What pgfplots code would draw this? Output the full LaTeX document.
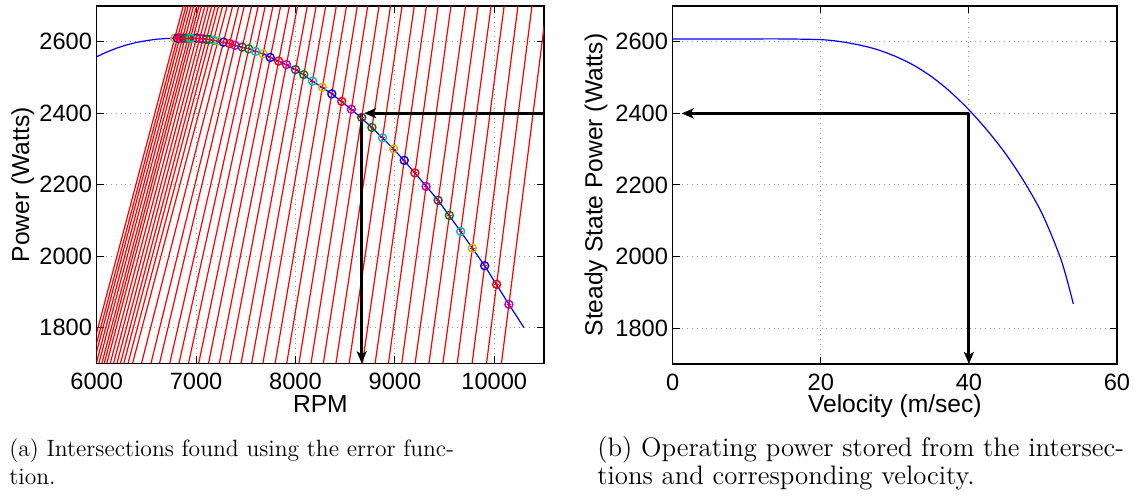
\documentclass[border=0pt]{standalone}
\usepackage{pgfplots}
\pgfplotsset{compat=1.18}
\usepackage{pgfplotstable}
\usepackage{fontspec}
\newfontfamily\arial{Liberation Sans}
\usetikzlibrary{arrows.meta}

% MATLAB default line colours
\definecolor{mB}{rgb}{0,0,1}
\definecolor{mG}{rgb}{0,0.5,0}
\definecolor{mR}{rgb}{1,0,0}
\definecolor{mC}{rgb}{0,0.75,0.75}
\definecolor{mM}{rgb}{0.75,0,0.75}
\definecolor{mY}{rgb}{0.75,0.75,0}
\definecolor{mK}{rgb}{0.25,0.25,0.25}

% load lines (one segment per velocity), separated by nan rows
\pgfplotstableread{
x y
5918 1700
6871 2700
nan nan
5945 1700
6898 2700
nan nan
5968 1700
6921 2700
nan nan
5996 1700
6949 2700
nan nan
6022 1700
6975 2700
nan nan
6052 1700
7005 2700
nan nan
6076 1700
7029 2700
nan nan
6102 1700
7055 2700
nan nan
6136 1700
7089 2700
nan nan
6170 1700
7123 2700
nan nan
6204 1700
7157 2700
nan nan
6239 1700
7192 2700
nan nan
6273 1700
7226 2700
nan nan
6315 1700
7267 2700
nan nan
6361 1700
7313 2700
nan nan
6451 1700
7368 2700
nan nan
6546 1700
7430 2700
nan nan
6632 1700
7485 2700
nan nan
6735 1700
7559 2700
nan nan
6828 1700
7625 2700
nan nan
6924 1700
7696 2700
nan nan
7026 1700
7774 2700
nan nan
7125 1700
7851 2700
nan nan
7234 1700
7939 2700
nan nan
7336 1700
8021 2700
nan nan
7452 1700
8119 2700
nan nan
7559 1700
8208 2700
nan nan
7672 1700
8304 2700
nan nan
7795 1700
8411 2700
nan nan
7912 1700
8513 2700
nan nan
8035 1700
8622 2700
nan nan
8156 1700
8727 2700
nan nan
8280 1700
8841 2700
nan nan
8407 1700
8956 2700
nan nan
8540 1700
9072 2700
nan nan
8674 1700
9195 2700
nan nan
8801 1700
9317 2700
nan nan
8935 1700
9435 2700
nan nan
9069 1700
9564 2700
nan nan
9203 1700
9711 2700
nan nan
9343 1700
9838 2700
nan nan
9483 1700
9968 2700
nan nan
9627 1700
10099 2700
nan nan
9777 1700
10238 2700
nan nan
9922 1700
10379 2700
nan nan
10072 1700
10527 2700
}\loadlines

% operating power curve against RPM
\pgfplotstableread{
x y
6000 2558
6100 2571
6200 2582
6300 2591
6400 2598
6500 2603
6600 2607
6700 2609
6785 2610
7003 2610
7136 2606
7275 2599
7391 2590
7529 2580
7674 2566
7830 2546
8000 2522
8171 2490
8365 2454
8562 2411
8769 2360
8987 2300
9201 2233
9435 2156
9662 2069
9903 1973
10147 1865
10298 1800
}\powercurve

% intersections
\pgfplotstableread{
x y
6785 2610
6812 2610
6835 2610
6863 2610
6889 2610
6919 2610
6943 2610
6969 2610
7003 2610
7036 2609
7069 2608
7103 2607
7136 2606
7176 2604
7220 2602
7275 2599
7337 2595
7391 2590
7464 2585
7529 2580
7598 2573
7674 2566
7746 2556
7830 2546
7909 2536
8000 2522
8083 2508
8171 2490
8271 2473
8365 2454
8465 2433
8562 2411
8666 2388
8769 2360
8876 2331
8987 2300
9094 2268
9201 2233
9314 2195
9435 2156
9548 2114
9662 2069
9779 2022
9903 1973
10023 1921
10147 1865
}\crossings

% steady state power against velocity
\pgfplotstableread{
x y
0 2608
5 2608
10 2608
15 2608
20 2606
22.5 2601
25 2592
27.5 2579
30 2560
32.5 2535
35 2502
37.5 2460
40 2410
42.5 2352
45 2286
47.5 2208
50 2115
52.5 1988
54.1 1868
}\steadystate

\pgfplotsset{
  matlab/.style={
    scale only axis,
    axis line style={line width=0.6pt},
    tick align=inside,
    major tick length=3.5pt,
    tick style={line width=0.5pt, black},
    grid=major,
    grid style={dotted, gray!75, line width=0.5pt},
    tick label style={font=\arial\fontsize{11.8}{12}\selectfont},
    label style={font=\arial\fontsize{12.3}{13}\selectfont},
    scaled x ticks=false, scaled y ticks=false,
    /pgf/number format/assume math mode=true,
    /pgf/number format/set thousands separator={},
    xticklabel style={anchor=base, yshift=-13.3pt},
    yticklabel style={anchor=east, inner xsep=0pt, xshift=-2.2pt},
    unbounded coords=jump,
  },
  arrowline/.style={black, line width=1.5pt, -{Stealth[length=6pt, width=5pt, inset=1.5pt]}},
  mk/.style={only marks, mark=o, mark size=2pt, line width=0.7pt, #1, mark options={solid}},
}

\begin{document}
\begin{tikzpicture}
\useasboundingbox (0,0) rectangle (570.5pt,249pt);

\begin{axis}[matlab,
  at={(48.35pt,67.35pt)}, anchor=south west,
  width=223.65pt, height=178.65pt,
  xmin=6000, xmax=10500, ymin=1700, ymax=2700,
  xtick={6000,7000,8000,9000,10000},
  ytick={1800,2000,2200,2400,2600},
  xlabel={RPM},
  ylabel={Power (Watts)},
  xlabel style={at={([yshift=-24.8pt]axis description cs:0.5,0)}, anchor=base},
  ylabel style={at={([xshift=-37pt]axis description cs:0,0.5)}, anchor=center},
]
\addplot[red, line width=0.6pt] table {\loadlines};
\addplot[mB, line width=0.6pt] table {\powercurve};
\addplot[mk=mY] table {
x y
6785 2610
6969 2610
7220 2602
7674 2566
8271 2473
8987 2300
9779 2022
};
\addplot[mk=mB] table {
x y
6812 2610
7003 2610
7275 2599
7746 2556
8365 2454
9094 2268
9903 1973
};
\addplot[mk=mR] table {
x y
6835 2610
7036 2609
7337 2595
7830 2546
8465 2433
9201 2233
10023 1921
};
\addplot[mk=mM] table {
x y
6863 2610
7069 2608
7391 2590
7909 2536
8562 2411
9314 2195
10147 1865
};
\addplot[mk=mK] table {
x y
6889 2610
7103 2607
7464 2585
8000 2522
8666 2388
9435 2156
};
\addplot[mk=mG] table {
x y
6919 2610
7136 2606
7529 2580
8083 2508
8769 2360
9548 2114
};
\addplot[mk=mC] table {
x y
6943 2610
7176 2604
7598 2573
8171 2490
8876 2331
9662 2069
};
\addplot[only marks, mark=+, mark size=1.1pt, line width=0.4pt, red!85!magenta] table {\crossings};
\addplot[arrowline] coordinates {(10500,2400) (8690,2400)};
\addplot[arrowline] coordinates {(8666,2400) (8666,1700)};
\end{axis}

\begin{axis}[matlab,
  at={(336.35pt,67.0pt)}, anchor=south west,
  width=222.15pt, height=179pt,
  xmin=0, xmax=60, ymin=1700, ymax=2700,
  xtick={0,20,40,60},
  ytick={1800,2000,2200,2400,2600},
  xlabel={Velocity (m/sec)},
  ylabel={Steady State Power (Watts)},
  xlabel style={at={([yshift=-24.5pt]axis description cs:0.5,0)}, anchor=base},
  ylabel style={at={([xshift=-38.3pt]axis description cs:0,0.5)}, anchor=center},
]
\addplot[mB, line width=0.6pt, smooth] table {\steadystate};
\addplot[arrowline] coordinates {(40,2400) (1.2,2400)};
\addplot[arrowline] coordinates {(40,2400) (40,1700)};
\end{axis}

\node[anchor=base west, inner sep=0pt, font=\fontsize{11.8}{14}\selectfont] at (4.5pt,20.5pt) {(a) Intersections found using the error func-};
\node[anchor=base west, inner sep=0pt, font=\fontsize{11.8}{14}\selectfont] at (4.5pt,6.5pt) {tion.};
\node[anchor=base west, inner sep=0pt, font=\fontsize{13.4}{15}\selectfont] at (298.5pt,20.5pt) {(b) Operating power stored from the intersec-};
\node[anchor=base west, inner sep=0pt, font=\fontsize{13.4}{15}\selectfont] at (298.5pt,6.5pt) {tions and corresponding velocity.};
\end{tikzpicture}
\end{document}
